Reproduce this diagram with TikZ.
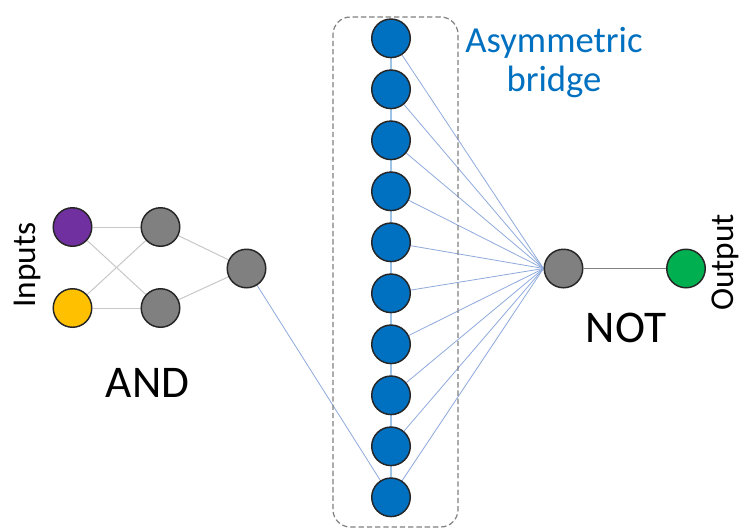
\documentclass[tikz,border=0pt]{standalone}
\usepackage{fontspec}
\setmainfont{Carlito}
\usetikzlibrary{backgrounds}
\definecolor{cpurple}{HTML}{7030A0}
\definecolor{cyellow}{HTML}{FFC000}
\definecolor{cgray}{HTML}{808080}
\definecolor{cblue}{HTML}{0070C0}
\definecolor{cgreen}{HTML}{00B050}
\definecolor{cline}{HTML}{C8C8C8}
\definecolor{cbline}{HTML}{8FAADC}
\definecolor{cvline}{HTML}{9DC3E6}
\definecolor{cborder}{HTML}{262626}
\begin{document}
\begin{tikzpicture}[x=0.75pt,y=-0.75pt,
  neuron/.style={circle, draw=cborder, line width=1.1pt, minimum size=28.9pt, inner sep=0pt},
  andline/.style={draw=cline, line width=0.75pt},
  bline/.style={draw=cbline, line width=0.6pt},
  vline/.style={draw=cvline, line width=1.3pt},
  outline/.style={draw=cgray, line width=0.8pt},
  bridgebox/.style={draw=cgray, dash pattern=on 4pt off 2.2pt, line width=0.9pt, rounded corners=13pt, minimum width=93.75pt, minimum height=382.5pt, inner sep=0pt},
  bigtext/.style={font=\fontsize{34}{40}\selectfont, inner sep=0pt},
  sidetext/.style={font=\fontsize{25}{30}\selectfont, inner sep=0pt, rotate=90, anchor=base},
  bluetext/.style={font=\fontsize{27.5}{33}\selectfont, text=cblue, inner sep=0pt, anchor=base}
]
\useasboundingbox (0,0) rectangle (742,529);

\node[bridgebox] (box) at (395.5,272) {};

\node[neuron, fill=cpurple] (i1) at (72.5,227) {};
\node[neuron, fill=cyellow] (i2) at (72.5,308) {};
\node[neuron, fill=cgray] (h1) at (160.5,227) {};
\node[neuron, fill=cgray] (h2) at (160.5,308) {};
\node[neuron, fill=cgray] (and) at (246.5,268.5) {};

\foreach \i [count=\k] in {0,...,9} {
  \node[neuron, fill=cblue] (b\k) at (391, 38.3+51*\i) {};
}

\node[neuron, fill=cgray] (not) at (563.5,268.5) {};
\node[neuron, fill=cgreen] (out) at (686,268.5) {};

\node[sidetext] (inlab) at (36,265) {Inputs};
\node[sidetext] (outlab) at (733,262.5) {Output};
\node[bigtext, anchor=base] (andlab) at (147.5,397) {AND};
\node[bigtext, anchor=base] (notlab) at (626,342) {NOT};
\node[bluetext] (asym1) at (554,52) {Asymmetric};
\node[bluetext] (asym2) at (554,91) {bridge};

\begin{pgfonlayer}{background}
  \fill[white] (0,0) rectangle (742,529);
  \draw[andline] (i1) -- (h1);
  \draw[andline] (i1) -- (h2);
  \draw[andline] (i2) -- (h1);
  \draw[andline] (i2) -- (h2);
  \draw[andline] (h1) -- (and);
  \draw[andline] (h2) -- (and);
  \draw[bline] (and.center) -- (b10.center);
  \foreach \a/\b in {1/2,2/3,3/4,4/5,5/6,6/7,7/8,8/9,9/10} {
    \draw[vline] (b\a.center) -- (b\b.center);
  }
  \foreach \k in {1,...,10} {
    \draw[bline] (b\k.center) -- (not.west);
  }
  \draw[outline] (not) -- (out);
\end{pgfonlayer}
\end{tikzpicture}
\end{document}
